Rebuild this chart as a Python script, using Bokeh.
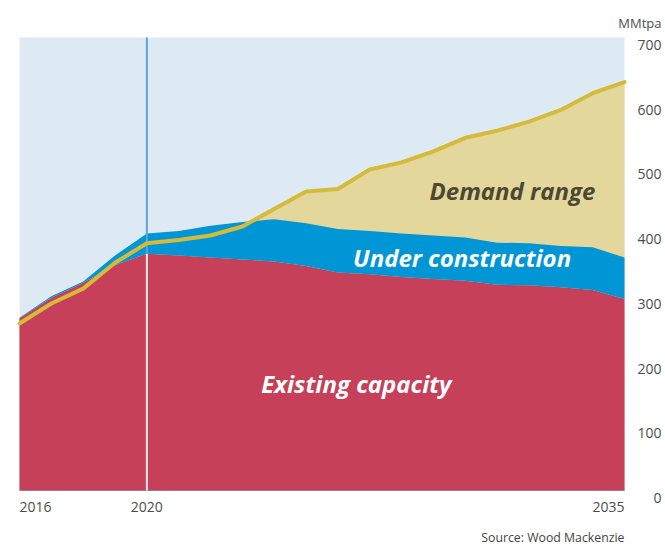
from bokeh.plotting import figure
from bokeh.models import ColumnDataSource, Label, Range1d, BoxAnnotation
from bokeh.embed import file_html
from bokeh.resources import INLINE

# ---- data ----
years = list(range(2016, 2036))
existing = [266, 298, 321, 348, 366, 363, 360, 357, 354, 347,
            337, 334, 330, 327, 324, 318, 317, 314, 310, 296]
under_construction = [1, 2, 2, 15, 31, 38, 49, 58, 65, 66,
                      67, 67, 67, 67, 67, 65, 65, 64, 66, 64]
demand = [258, 289, 312, 352, 382, 387, 394, 408, 435, 462,
          466, 496, 507, 524, 545, 556, 570, 588, 614, 631]
x_ticks = [2016, 2020, 2035]
y_ticks = [0, 100, 200, 300, 400, 500, 600, 700]
unit_label = "MMtpa"
source_text = "Source: Wood Mackenzie"
split_year = 2020
series_labels = ["Demand range", "Under construction", "Existing capacity"]

# ---- layout (pixels) ----
W, H = 665, 547
PL, PT, PR, PB = 19, 37, 624, 490          # plot-area edges on the canvas
X0, X1 = 2016, 2035
Y0, Y1 = 0, 700
dx = (X1 - X0) / (PR - PL)
dy = (Y1 - Y0) / (PB - PT)

FONT = "Open Sans"
TXT = "#4d4d4d"
BG = "#deeaf3"
RED = "#c54058"
BLUE = "#0096d6"
TAN = "#e4d79b"
GOLD = "#d4bb3c"

p = figure(width=W, height=H,
           x_range=Range1d(X0 - PL * dx, X1 + (W - PR) * dx),
           y_range=Range1d(Y0 - (H - PB) * dy, Y1 + PT * dy),
           output_backend="svg", toolbar_location=None,
           min_border_left=0, min_border_right=0, min_border_top=0, min_border_bottom=0)
p.background_fill_color = "white"
p.border_fill_color = "white"
p.outline_line_color = None
p.grid.visible = False
p.axis.visible = False

# plot area background
p.add_layout(BoxAnnotation(left=X0, right=X1, bottom=Y0, top=Y1,
                           fill_color=BG, fill_alpha=1, line_color=None, level="underlay"))

total = [e + u for e, u in zip(existing, under_construction)]
src = ColumnDataSource(dict(year=years, existing=existing, total=total,
                            demand=demand, zero=[Y0] * len(years)))

p.varea(x="year", y1="zero", y2="demand", source=src, fill_color=TAN)
p.varea(x="year", y1="zero", y2="existing", source=src, fill_color=RED)
p.varea(x="year", y1="existing", y2="total", source=src, fill_color=BLUE)

# baseline (x-axis line)
p.segment(x0=[X0], y0=[Y0], x1=[X1], y1=[Y0], line_color="#9a7a92", line_width=1)

i = years.index(split_year)
p.segment(x0=[split_year], y0=[Y0], x1=[split_year], y1=[existing[i]],
          line_color="#f2e9ee", line_width=2)
p.segment(x0=[split_year], y0=[existing[i]], x1=[split_year], y1=[Y1],
          line_color="#5ba4dc", line_width=2)

p.line("year", "demand", source=src, line_color=GOLD, line_width=4,
       line_join="round", line_cap="round")

# x tick labels
for t in x_ticks:
    align = "left" if t == X0 else ("right" if t == X1 else "center")
    p.add_layout(Label(x=t, y=Y0 - 16.5 * dy, text=str(t), text_align=align,
                       text_baseline="alphabetic", text_font=FONT,
                       text_font_size="14px", text_color=TXT))

# y tick labels (right side)
for v in y_ticks:
    p.add_layout(Label(x=X1 + 37 * dx, y=v - 7.5 * dy, text=str(v), text_align="right",
                       text_baseline="alphabetic", text_font=FONT,
                       text_font_size="14px", text_color=TXT))

p.add_layout(Label(x=X1 + 37 * dx, y=Y1 + 15 * dy, text=unit_label, text_align="right",
                   text_baseline="alphabetic", text_font=FONT,
                   text_font_size="13px", text_color=TXT))

p.add_layout(Label(x=X1, y=Y0 - 47 * dy, text=source_text, text_align="right",
                   text_baseline="alphabetic", text_font=FONT,
                   text_font_size="12.3px", text_color="#444444"))

# in-chart series labels
label_pos = [(2031.48, 463), (2029.9, 360), (2026.58, 166)]
label_col = ["#4b4834", "white", "white"]
for txt, (lx, ly), c in zip(series_labels, label_pos, label_col):
    p.add_layout(Label(x=lx, y=ly, text=txt, text_align="center", text_baseline="middle",
                       text_font=FONT, text_font_style="bold italic",
                       text_font_size="24px", text_color=c))

open("out.html", "w").write(file_html(p, INLINE))
